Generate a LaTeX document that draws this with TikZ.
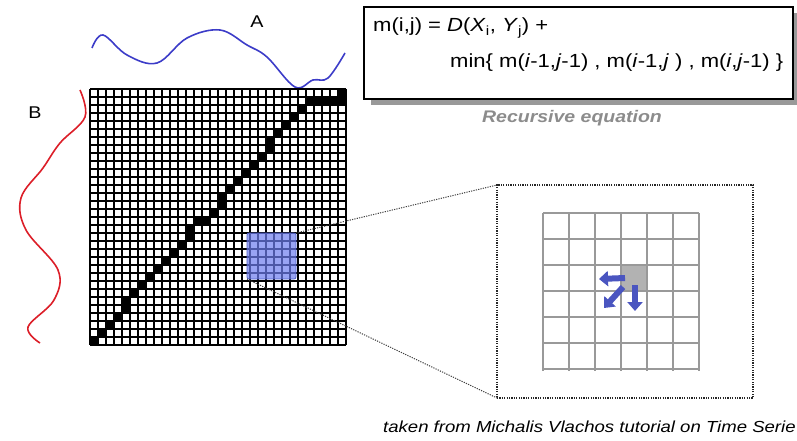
\documentclass[tikz,border=0pt]{standalone}
\usepackage{fontspec}
\setmainfont{Liberation Sans}
\newfontfamily\stretchfont[FakeStretch=1.16]{Liberation Sans}
\usepackage{tikz}
\usetikzlibrary{arrows.meta,positioning,shadows}
\definecolor{seriesA}{HTML}{3C3CC8}
\definecolor{seriesB}{HTML}{DC1E28}
\definecolor{winfill}{HTML}{6E7EF0}
\definecolor{winedge}{HTML}{5060C8}
\definecolor{stepblue}{HTML}{4A55C0}
\newcommand{\cellsz}{8}
\tikzset{
  cellline/.style={draw=black, line width=2.5pt},
  warpcell/.style={fill=black},
  series/.style={line width=1.6pt, smooth, tension=0.6},
  lbl/.style={font=\stretchfont\fontsize{17}{17}\selectfont, inner sep=0pt},
  eqbox/.style={rectangle, draw=black, line width=1.4pt, fill=white, inner sep=0pt, outer sep=0pt,
                drop shadow={shadow xshift=7pt, shadow yshift=-6pt, fill=black!40, opacity=1}},
  eqtext/.style={font=\stretchfont\fontsize{19}{22}\selectfont, inner sep=0pt, anchor=base west},
  caption/.style={font=\stretchfont\fontsize{16.8}{18}\selectfont\bfseries\itshape, text=black!45, inner sep=0pt},
  window/.style={rectangle, rounded corners=2pt, fill=winfill, fill opacity=0.7, draw=winedge,
                 line width=0.8pt, inner sep=0pt, outer sep=0pt},
  zoomframe/.style={rectangle, draw=black!85, line width=1.3pt, dash pattern=on 1.2pt off 1.2pt,
                    inner sep=0pt, outer sep=0pt},
  zoomline/.style={draw=black!75, line width=1pt, dash pattern=on 1.2pt off 1.2pt},
  smallgrid/.style={draw=black!40, line width=1.6pt},
  curcell/.style={rectangle, fill=black!30, minimum size=26pt, inner sep=0pt, outer sep=0pt},
  stepto/.style={-{Triangle[length=9pt, width=15pt]}, draw=stepblue, line width=6pt},
  source/.style={font=\stretchfont\fontsize{16}{18}\selectfont\itshape, inner sep=0pt, anchor=base west}
}
\begin{document}
\begin{tikzpicture}[x=1pt, y=-1pt]
  \useasboundingbox (0,0) rectangle (797,441);

  % the two series
  \draw[series, seriesA] plot coordinates {(92,48) (103,35) (127,55) (157,63) (187,38) (220,30)
    (247,45) (267,57) (295,87) (313,80) (328,78) (345,53)};
  \draw[series, seriesB] plot coordinates {(80,90) (85,117) (60,143) (43,168) (21,198) (26,230)
    (58,270) (54,300) (28,327) (40,343)};
  \node[lbl] (labelA) at (257,22) {A};
  \node[lbl] (labelB) at (35,113) {B};

  % cost matrix and warping path
  \fill[white] (90,89) rectangle (346,345);
  \foreach \c/\r in {0/0,1/1,2/2,3/3,4/4,4/5,5/6,6/7,7/8,8/9,9/10,10/11,11/12,12/13,12/14,
      13/15,14/15,15/16,16/17,16/18,17/19,18/20,19/21,20/22,21/23,22/24,22/25,23/26,24/27,
      25/28,26/29,27/30,28/30,29/30,30/30,31/30,31/31}
    \fill[warpcell] ({90+\c*\cellsz},{345-(\r+1)*\cellsz}) rectangle ++(\cellsz,\cellsz);
  \foreach \k in {0,...,32} {
    \draw[cellline] ({90+\k*\cellsz},89) -- ++(0,256);
    \draw[cellline] (90,{89+\k*\cellsz}) -- ++(256,0);
  }
  \node[window, minimum width=49pt, minimum height=46pt] (win) at (271.5,256) {};

  % zoomed window
  \node[zoomframe, minimum width=256pt, minimum height=213pt] (zoom) at (625,291.5) {};
  \draw[zoomline] (win.north east) -- (zoom.north west);
  \draw[zoomline] (win.south west) -- (zoom.south west);
  \node[curcell] (cur) at (634,278) {};
  \foreach \k in {0,...,6} {
    \draw[smallgrid] ({543+\k*26},213) -- ++(0,158);
    \draw[smallgrid] (543,{213+\k*26}) -- ++(156,0);
  }
  \coordinate (left) at (599,279);
  \coordinate (diag) at (604,308);
  \coordinate (down) at (635,311);
  \draw[stepto] ([xshift=-9pt]cur.center) -- (left);
  \draw[stepto] ([xshift=-11pt, yshift=-9pt]cur.center) -- (diag);
  \draw[stepto] ([xshift=1pt, yshift=-7pt]cur.center) -- (down);

  % recursion
  \node[eqbox, minimum width=429pt, minimum height=92pt] (eq) at (578.5,53) {};
  \node[eqtext] (eqlhs) at (373,32) {m(i,j)};
  \node[eqtext] (eqtop) at (428,32) {= \textit{D}(\textit{X}\textsubscript{i}, \textit{Y}\textsubscript{j}) +};
  \node[eqtext] (eqmin) at (450,68) {min\{ m(\textit{i}-1,\textit{j}-1) , m(\textit{i}-1,\textit{j} ) , m(\textit{i},\textit{j}-1) \}};
  \node[caption, anchor=base] (eqname) at (572,122) {Recursive equation};

  \node[source] (credit) at (383,432) {taken from Michalis Vlachos tutorial on Time Serie};
\end{tikzpicture}
\end{document}
